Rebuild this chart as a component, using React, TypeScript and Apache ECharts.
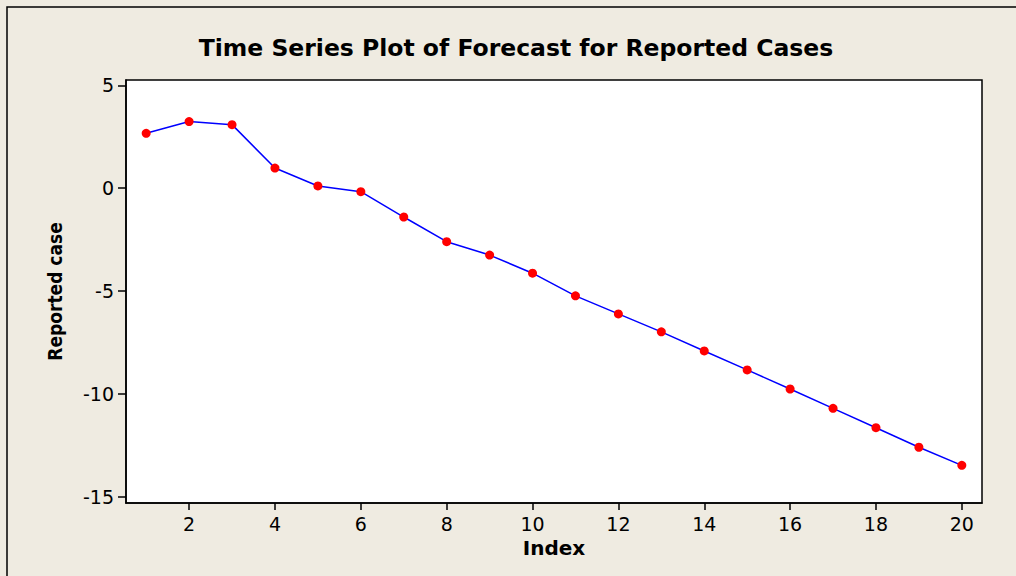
import React, { useEffect, useRef } from "react";
import * as echarts from "echarts";

const xIndex = [1, 2, 3, 4, 5, 6, 7, 8, 9, 10, 11, 12, 13, 14, 15, 16, 17, 18, 19, 20];
const reportedCase = [2.67, 3.24, 3.09, 0.98, 0.11, -0.17, -1.4, -2.6, -3.25, -4.13, -5.23, -6.11, -6.98, -7.91, -8.83, -9.76, -10.7, -11.64, -12.59, -13.47];
const xTicks = [2, 4, 6, 8, 10, 12, 14, 16, 18, 20];
const yTicks = [-15, -10, -5, 0, 5];
const titleText = "Time Series Plot of Forecast for Reported Cases";
const xTitle = "Index";
const yTitle = "Reported case";

const FONT = "'DejaVu Sans', Verdana, sans-serif";
const COND = "'DejaVu Sans Condensed', 'DejaVu Sans', sans-serif";

export default function App() {
  const ref = useRef<HTMLDivElement>(null);
  useEffect(() => {
    if (!ref.current) return;
    const chart = echarts.init(ref.current, null, { renderer: "svg" });
    chart.setOption({
      animation: false,
      backgroundColor: "#EFEBE1",
      textStyle: { fontFamily: FONT },
      graphic: [
        {
          type: "rect",
          shape: { x: 7, y: 7, width: 1100, height: 700 },
          style: { fill: "none", stroke: "#000", lineWidth: 1.5 },
          silent: true,
        },
        {
          type: "text",
          x: 516,
          y: 48,
          style: {
            text: titleText,
            fontFamily: FONT,
            fontWeight: "bold",
            fontSize: 23.5,
            fill: "#000",
            align: "center",
            verticalAlign: "middle",
          },
        },
      ],
      grid: {
        left: 126,
        top: 80,
        right: 34,
        bottom: 73,
        show: true,
        backgroundColor: "#fff",
        borderColor: "#000",
        borderWidth: 1.5,
      },
      xAxis: {
        type: "value",
        min: 0.53,
        max: 20.47,
        name: xTitle,
        nameLocation: "middle",
        nameGap: 34,
        nameTextStyle: { fontFamily: FONT, fontWeight: "bold", fontSize: 20, color: "#000" },
        axisLine: { show: true, onZero: false, lineStyle: { color: "#000", width: 1.5 } },
        axisTick: { show: true, length: 7, customValues: xTicks, lineStyle: { color: "#000", width: 1.5 } },
        axisLabel: { customValues: xTicks, margin: 11, fontSize: 19, color: "#000", fontFamily: FONT },
        splitLine: { show: false },
      },
      yAxis: {
        type: "value",
        min: -15.3,
        max: 5.26,
        name: yTitle,
        nameLocation: "middle",
        nameGap: 62,
        nameTextStyle: { fontFamily: COND, fontWeight: "bold", fontSize: 19, color: "#000" },
        axisLine: { show: true, onZero: false, lineStyle: { color: "#000", width: 1.5 } },
        axisTick: { show: true, length: 8, customValues: yTicks, lineStyle: { color: "#000", width: 1.5 } },
        axisLabel: { customValues: yTicks, margin: 12, fontSize: 19, color: "#000", fontFamily: FONT },
        splitLine: { show: false },
      },
      series: [
        {
          type: "line",
          data: xIndex.map((x, i) => [x, reportedCase[i]]),
          lineStyle: { color: "#0000FF", width: 1.5 },
          itemStyle: { color: "#FF0000" },
          symbol: "circle",
          symbolSize: 9,
          showSymbol: true,
        },
      ],
    });
    return () => chart.dispose();
  }, []);
  return (
    <div
      ref={ref}
      style={{ position: "fixed", left: 0, top: 0, width: 1016, height: 576 }}
    />
  );
}
